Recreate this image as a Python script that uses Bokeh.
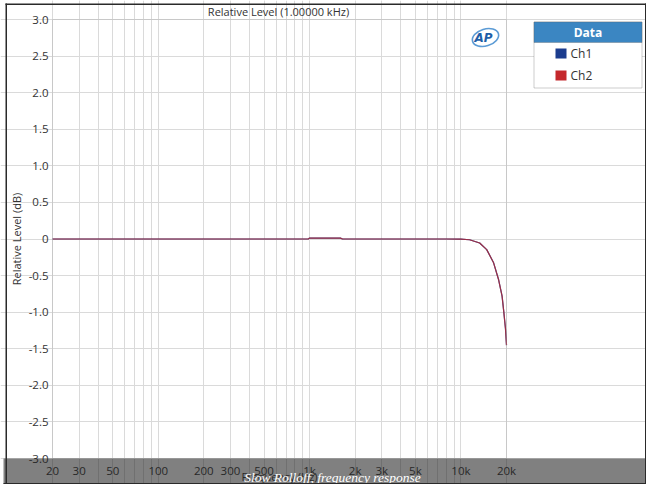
from bokeh.plotting import figure
from bokeh.models import FixedTicker, Label, BoxAnnotation, ColumnDataSource, Range1d
from bokeh.embed import file_html
from bokeh.resources import INLINE

# ---- data ----
freq_hz = [20, 30, 50, 100, 200, 500, 980, 1000, 1600, 1650, 3000, 5000, 8000,
           10000, 11400, 13300, 14800, 16400, 17700, 18700, 19200, 19700, 20000]
ch1_db = [0, 0, 0, 0, 0, 0, 0, 0.012, 0.012, 0, 0, 0, 0,
          -0.002, -0.01, -0.054, -0.145, -0.32, -0.55, -0.78, -1.0, -1.23, -1.45]
ch2_db = [0, 0, 0, 0, 0, 0, 0, 0.012, 0.012, 0, 0, 0, 0,
          -0.002, -0.01, -0.054, -0.145, -0.32, -0.55, -0.78, -1.0, -1.23, -1.45]
series_names = ["Ch1", "Ch2"]
series_colors = ["#1b3c8e", "#c4282c"]

x_ticks = [20, 30, 50, 100, 200, 300, 500, 1000, 2000, 3000, 5000, 10000, 20000]
x_tick_labels = ["20", "30", "50", "100", "200", "300", "500", "1k", "2k", "3k", "5k", "10k", "20k"]
y_ticks = [3.0, 2.5, 2.0, 1.5, 1.0, 0.5, 0.0, -0.5, -1.0, -1.5, -2.0, -2.5, -3.0]
y_tick_labels = ["3.0", "2.5", "2.0", "1.5", "1.0", "0.5", "0", "-0.5", "-1.0", "-1.5", "-2.0", "-2.5", "-3.0"]
x_min, x_max = 20, 20000
y_min, y_max = -3.0, 3.0

title_text = "Relative Level (1.00000 kHz)"
x_label = "Frequency (Hz)"
y_label = "Relative Level (dB)"
legend_title = "Data"
caption_text = "Slow Rolloff, frequency response"
logo_text = "AP"

# ---- layout (canvas pixels) ----
W, H = 646, 484
PL, PR, PT, PB = 52, 506, 19, 458          # plot-area edges
DEC = (PR - PL) / 3.0                       # px per decade
DB = (PB - PT) / (y_max - y_min)            # px per dB
xr = Range1d(x_min * 10 ** (-PL / DEC), x_max * 10 ** ((W - PR) / DEC))
yr = Range1d(y_min - (H - PB) / DB, y_max + PT / DB)

FONT = "Open Sans"
TXT = "#333333"
GRID = "#dadada"
FRAME = "#2a2a2a"


def sy(y):
    """canvas y (from top) -> frame-relative screen y (from bottom)"""
    return H - y


def px2x(px):
    return x_min * 10 ** ((px - PL) / DEC)


def px2y(py):
    return y_max - (py - PT) / DB


p = figure(frame_width=W, frame_height=H, x_axis_type="log", x_range=xr, y_range=yr,
           output_backend="svg", toolbar_location=None, min_border=0,
           x_axis_label=x_label, y_axis_label=y_label)
p.background_fill_color = "white"
p.border_fill_color = "white"
p.outline_line_color = None

minor_pos = [m * 10 ** d for d in range(1, 5) for m in range(1, 10) if x_min <= m * 10 ** d <= x_max]
p.xaxis.ticker = FixedTicker(ticks=x_ticks, minor_ticks=minor_pos)
p.yaxis.ticker = FixedTicker(ticks=y_ticks)
p.xaxis.major_label_overrides = {t: s for t, s in zip(x_ticks, x_tick_labels)}
p.yaxis.major_label_overrides = {t: s for t, s in zip(y_ticks, y_tick_labels)}
p.xaxis.fixed_location = y_min
p.yaxis.fixed_location = x_min
p.xaxis.bounds = (x_min, x_max)
p.yaxis.bounds = (y_min, y_max)

p.xgrid.grid_line_color = GRID
p.xgrid.minor_grid_line_color = GRID
p.xgrid.bounds = (y_min, y_max)
p.ygrid.grid_line_color = GRID
p.ygrid.bounds = (x_min, x_max)
for ax in (p.xaxis[0], p.yaxis[0]):
    ax.axis_line_color = None
    ax.major_tick_line_color = None
    ax.minor_tick_line_color = None
    ax.major_tick_out = 0
    ax.major_tick_in = 0
    ax.minor_tick_out = 0
    ax.minor_tick_in = 0
    ax.major_label_text_font = FONT
    ax.major_label_text_font_size = "11.5px"
    ax.major_label_text_color = TXT
    ax.axis_label_text_font = FONT
    ax.axis_label_text_font_size = "11px"
    ax.axis_label_text_font_style = "normal"
    ax.axis_label_text_color = TXT
p.yaxis.major_label_standoff = 4
p.yaxis.axis_label_standoff = 2
p.xaxis.major_label_standoff = 4
p.xaxis.axis_label_standoff = -12

src = ColumnDataSource(dict(f=freq_hz, a=ch1_db, b=ch2_db))
p.line("f", "a", source=src, line_color=series_colors[0], line_width=1.2)
p.line("f", "b", source=src, line_color=series_colors[1], line_width=1.2, line_alpha=0.75)

# plot-area border
p.add_layout(BoxAnnotation(left=x_min, right=x_max, bottom=y_min, top=y_max,
                           fill_color=None, line_color="#a0a0a0", line_width=1))


def sbox(x0, x1, y0, y1, **kw):
    return BoxAnnotation(left=x0, right=x1, top=sy(y0), bottom=sy(y1),
                         left_units="screen", right_units="screen",
                         top_units="screen", bottom_units="screen", **kw)


# title
p.add_layout(Label(x=278, y=sy(11), x_units="screen", y_units="screen", text=title_text,
                   text_font=FONT, text_font_size="11px", text_color=TXT,
                   text_align="center", text_baseline="middle"))

# AP logo (decoration)
p.ellipse(x=[px2x(485)], y=[px2y(37)], width=27, height=17, width_units="screen",
          height_units="screen", angle=0.3, fill_color=None, line_color="#5b9bd5", line_width=1.6)
p.add_layout(Label(x=483, y=sy(37), x_units="screen", y_units="screen", text=logo_text,
                   text_font="DejaVu Sans", text_font_size="12px", text_font_style="bold italic",
                   text_color="#1f5fa8", text_align="center", text_baseline="middle"))

# legend
p.add_layout(sbox(533.5, 641.5, 21.5, 87.5, fill_color="white", fill_alpha=1,
                  line_color="#555555", line_width=1))
p.add_layout(sbox(533.5, 641.5, 21.5, 42, fill_color="#3b86c2", fill_alpha=1,
                  line_color="#555555", line_width=1))
p.add_layout(Label(x=587.5, y=sy(31.5), x_units="screen", y_units="screen", text=legend_title,
                   text_font=FONT, text_font_size="12px", text_font_style="bold", text_color="white",
                   text_align="center", text_baseline="middle"))
for i, (name, col) in enumerate(zip(series_names, series_colors)):
    yc = 53 + 22 * i
    p.add_layout(sbox(555, 566, yc - 5, yc + 5, fill_color=col, fill_alpha=1, line_color=None))
    p.add_layout(Label(x=570, y=sy(yc), x_units="screen", y_units="screen", text=name,
                       text_font=FONT, text_font_size="12px", text_color=TXT,
                       text_align="left", text_baseline="middle"))

# caption overlay (over the x-axis labels)
p.add_layout(sbox(3, W, 458, H, fill_color="#202020", fill_alpha=0.57, line_color=None, level="overlay"))
p.add_layout(Label(x=332, y=sy(477), x_units="screen", y_units="screen", text=caption_text,
                   text_font="Liberation Serif", text_font_size="13.5px", text_font_style="italic",
                   text_color="white", text_align="center", text_baseline="middle", level="overlay"))

# outer frame, drawn as four thin filled strips
for x0, x1, y0, y1 in [(5, 6.5, 3, H), (5, W, 3, 4.5), (W - 1.5, W, 3, H), (3, W, H - 1.5, H)]:
    p.add_layout(sbox(x0, x1, y0, y1, fill_color=FRAME, fill_alpha=1, line_color=None, level="overlay"))

open("out.html", "w").write(file_html(p, INLINE))
